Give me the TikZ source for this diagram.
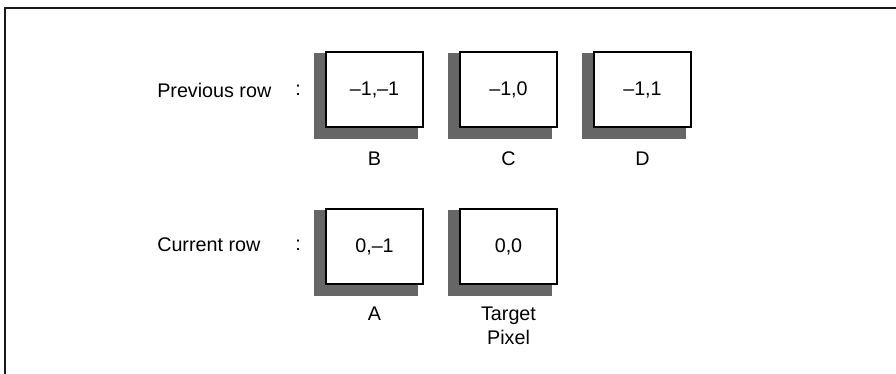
\documentclass[tikz,border=0pt]{standalone}
\usepackage{fontspec}
\setmainfont{Liberation Sans}
\usetikzlibrary{positioning,backgrounds}
\definecolor{shadowgray}{HTML}{666666}
\definecolor{framegray} {HTML}{1A1A1A}

\begin{document}
\begin{tikzpicture}[
  x=0.75pt, y=-0.75pt,
  font=\fontsize{14.8}{18}\selectfont,
  cell/.style ={draw, fill=white, line width=1.5pt, minimum width=72.75pt,
                minimum height=56.25pt, inner sep=0pt},
  tag/.style  ={inner sep=0pt, align=center},
  rowlbl/.style={inner sep=0pt, anchor=west},
  frame/.style={draw=framegray, line width=1.6pt},
]
\useasboundingbox (0,0) rectangle (896,374);

\draw[frame] (5,374) |- (896,8);

% previous row
\node[rowlbl] (prev) at (157,90) {Previous row};
\node[tag] (pcolon) at (298,90) {:};
\node[cell] (b) at (374.5,90) {–1,–1};
\node[cell, right=26.25pt of b] (c) {–1,0};
\node[cell, right=26.25pt of c] (d) {–1,1};

\node[tag, below=17.5pt of b] (lb) {B};
\node[tag, below=17.5pt of c] (lc) {C};
\node[tag, below=17.5pt of d] (ld) {D};

% current row
\node[rowlbl] (cur) at (157,245) {Current row};
\node[tag] (ccolon) at (298,245) {:};
\node[cell] (a) at (374.5,246.5) {0,–1};
\node[cell, right=26.25pt of a] (t) {0,0};

\node[tag, below=16.5pt of a] (la) {A};
\node[tag, below=16.5pt of t] (lt) {Target\\Pixel};

% shadows
\begin{scope}[on background layer]
  \foreach \n in {b,c,d,a,t}
    \fill[shadowgray] ([shift={(-11,2)}]\n.north west)
      rectangle ([shift={(-6,11)}]\n.south east);
\end{scope}

\end{tikzpicture}
\end{document}
